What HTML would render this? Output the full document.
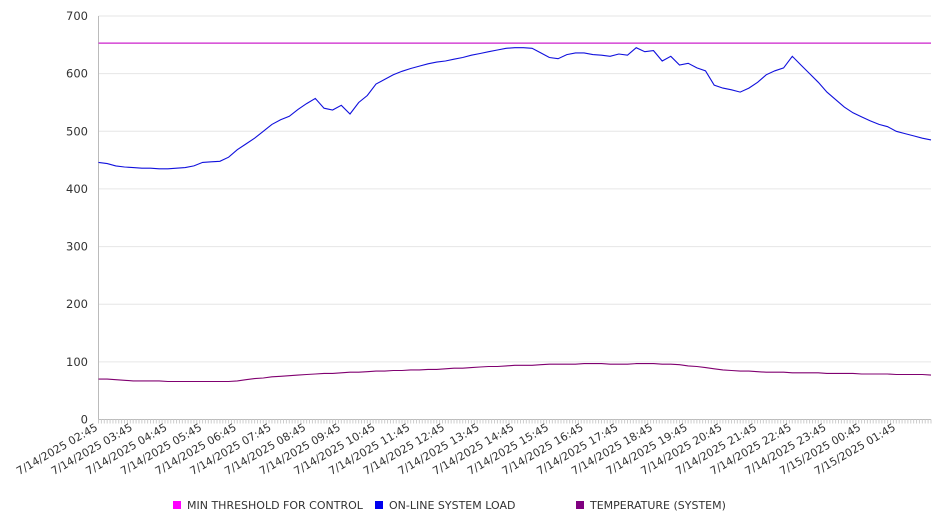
<!DOCTYPE html>
<html><head><meta charset="utf-8"><style>
body{margin:0;background:#fff;}
svg{display:block;font-family:"DejaVu Sans","Liberation Sans",sans-serif;}
</style></head><body>
<svg id="chart" width="946" height="526"></svg>
<script>
const yTicks=[0,100,200,300,400,500,600,700];
const hourLabels=["7/14/2025 02:45","7/14/2025 03:45","7/14/2025 04:45","7/14/2025 05:45","7/14/2025 06:45","7/14/2025 07:45","7/14/2025 08:45","7/14/2025 09:45","7/14/2025 10:45","7/14/2025 11:45","7/14/2025 12:45","7/14/2025 13:45","7/14/2025 14:45","7/14/2025 15:45","7/14/2025 16:45","7/14/2025 17:45","7/14/2025 18:45","7/14/2025 19:45","7/14/2025 20:45","7/14/2025 21:45","7/14/2025 22:45","7/14/2025 23:45","7/15/2025 00:45","7/15/2025 01:45"];
const threshold=653;
const loadValues=[446,444,440,438,437,436,436,435,435,436,437,440,446,447,448,455,468,478,488,500,512,520,526,538,548,557,540,537,545,530,550,562,582,590,598,604,609,613,617,620,622,625,628,632,635,638,641,644,645,645,644,636,628,626,633,636,636,633,632,630,634,632,645,638,640,622,630,615,618,610,605,580,575,572,568,575,585,598,605,610,630,615,600,585,568,555,542,532,525,518,512,508,500,496,492,488,485];
const tempValues=[70,70,69,68,67,67,67,67,66,66,66,66,66,66,66,66,67,69,71,72,74,75,76,77,78,79,80,80,81,82,82,83,84,84,85,85,86,86,87,87,88,89,89,90,91,92,92,93,94,94,94,95,96,96,96,96,97,97,97,96,96,96,97,97,97,96,96,95,93,92,90,88,86,85,84,84,83,82,82,82,81,81,81,81,80,80,80,80,79,79,79,79,78,78,78,78,77];
const NS="http://www.w3.org/2000/svg";
const svg=document.getElementById('chart');
const X0=98.5,X1=931,Y0=419.5,Y1=16;
const yScale=v=>Y0-(v/700)*(Y0-Y1);
const nSteps=loadValues.length-1;
const xIdx=i=>X0+(i/nSteps)*(X1-X0);
function mk(tag,attrs){const e=document.createElementNS(NS,tag);for(const k in attrs)e.setAttribute(k,attrs[k]);svg.appendChild(e);return e;}
yTicks.forEach(t=>{
  const y=yScale(t);
  if(t>0){const g=mk('line',{x1:X0,x2:X1,y1:y,y2:y,stroke:'#e6e6e6','stroke-width':1});
  
  }
  const l=mk('text',{x:88,y:y+4,'text-anchor':'end','font-size':11.5,fill:'#333'});l.textContent=t;
  
  
});
const ax=mk('line',{x1:X0,x2:X0,y1:Y1,y2:Y0,stroke:'#bbb'});


const bx=mk('line',{x1:X0,x2:X1,y1:Y0,y2:Y0,stroke:'#bbb'});


const nMinor=hourLabels.length*12;
for(let i=0;i<=nMinor;i++){const x=X0+i*(X1-X0)/nMinor;const t=mk('line',{x1:x,x2:x,y1:Y0,y2:Y0+4,stroke:'#ccc'});

}
hourLabels.forEach((s,i)=>{
  const x=X0+i*12*(X1-X0)/nMinor;const y=Y0+10;
  const t=mk('text',{x:x,y:y,'text-anchor':'end','font-size':11,fill:'#333',transform:`rotate(-30 ${x} ${y})`});t.textContent=s;
  
  
});
const th=mk('line',{x1:X0,x2:X1,y1:yScale(threshold),y2:yScale(threshold),stroke:'#cc22cc','stroke-width':1.2});


function path(vals,color,name){
  const d=vals.map((v,i)=>(i?'L':'M')+xIdx(i).toFixed(1)+' '+yScale(v).toFixed(1)).join(' ');
  const p=mk('path',{d:d,fill:'none',stroke:color,'stroke-width':1.1});
  
  
}
path(loadValues,'#1010dd','online-system-load-line');
path(tempValues,'#800070','temperature-line');
const legend=[["MIN THRESHOLD FOR CONTROL","#ff00ff",173],["ON-LINE SYSTEM LOAD","#0000ee",375],["TEMPERATURE (SYSTEM)","#800080",576]];
legend.forEach(([lab,c,x])=>{
  const r=mk('rect',{x:x,y:501,width:8,height:8,fill:c});
  
  
  const t=mk('text',{x:x+14,y:509,'font-size':11,fill:'#333'});t.textContent=lab;
  
  
});
</script>
</body></html>
